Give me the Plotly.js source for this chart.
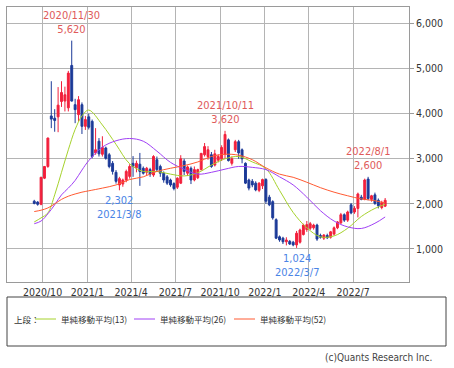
<!DOCTYPE html>
<html><head><meta charset="utf-8">
<script src="https://cdn.plot.ly/plotly-3.0.1.min.js"></script>
<style>html,body{margin:0;padding:0;background:#fff;}#chart{width:454px;height:368px;}</style>
</head><body><div id="chart"></div>
<script>
const dates = ['2020-09-14','2020-09-21','2020-09-28','2020-10-05','2020-10-12','2020-10-19','2020-10-26','2020-11-02','2020-11-09','2020-11-16','2020-11-23','2020-11-30','2020-12-07','2020-12-14','2020-12-21','2020-12-28',
'2021-01-04','2021-01-11','2021-01-18','2021-01-25','2021-02-01','2021-02-08','2021-02-15','2021-02-22','2021-03-01','2021-03-08','2021-03-15','2021-03-22','2021-03-29','2021-04-05','2021-04-12','2021-04-19','2021-04-26','2021-05-03','2021-05-10','2021-05-17','2021-05-24','2021-05-31','2021-06-07','2021-06-14','2021-06-21','2021-06-28','2021-07-05','2021-07-12','2021-07-19','2021-07-26','2021-08-02','2021-08-09','2021-08-16','2021-08-23','2021-08-30','2021-09-06','2021-09-13','2021-09-20','2021-09-27','2021-10-04','2021-10-11','2021-10-18','2021-10-25','2021-11-01','2021-11-08','2021-11-15','2021-11-22','2021-11-29','2021-12-06','2021-12-13','2021-12-20','2021-12-27',
'2022-01-03','2022-01-10','2022-01-17','2022-01-24','2022-01-31','2022-02-07','2022-02-14','2022-02-21','2022-02-28','2022-03-07','2022-03-14','2022-03-21','2022-03-28','2022-04-04','2022-04-11','2022-04-18','2022-04-25','2022-05-02','2022-05-09','2022-05-16','2022-05-23','2022-05-30','2022-06-06','2022-06-13','2022-06-20','2022-06-27','2022-07-04','2022-07-11','2022-07-18','2022-07-25','2022-08-01','2022-08-08','2022-08-15','2022-08-22','2022-08-29','2022-09-05'];

const open  = [2060,2040,1990,2570,2830,3950,3900,3930,4270,4280,4130,5070,4200,3980,4200,3720,
3930,3830,3130,3390,3100,3240,3090,2900,2700,2420,2440,2530,2610,2900,2800,2880,2790,2700,2760,2640,2980,2830,2680,2600,2530,2450,2370,2460,2950,2680,2790,2530,2580,2760,3090,3050,3090,2860,2970,3000,3100,3420,2900,3200,3380,3200,2900,2530,2500,2460,2300,2400,
2540,2150,2050,1650,1270,1240,1160,1170,1150,1090,1150,1320,1430,1460,1470,1530,1300,1240,1300,1260,1330,1470,1580,1760,1640,1980,1820,1900,2150,2100,2550,2100,2200,2080,1920,1950];
const high  = [2090,2060,2600,2840,3470,4720,4100,4590,4720,4600,4950,5620,4330,4390,4250,3950,
4000,3870,3680,3460,3500,3270,3130,2950,2750,2600,2560,2760,2880,3060,2960,3130,2830,2820,2800,3080,3050,2870,2720,2640,2560,2480,2590,3080,3000,2850,2830,2830,2780,3130,3350,3280,3150,3200,3100,3300,3620,3450,3050,3420,3420,3230,2920,2560,2550,2500,2480,2560,
2570,2200,2080,1680,1300,1270,1260,1200,1180,1400,1450,1560,1620,1600,1560,1560,1340,1330,1340,1400,1500,1620,1800,1790,1850,2020,1950,2250,2200,2560,2600,2200,2250,2120,2070,2130];
const low   = [1990,1960,1970,2550,2800,3680,3600,3590,4150,4050,4050,4270,3790,3830,3550,3640,
3650,3010,3090,3050,3050,2980,2790,2650,2450,2302,2380,2480,2560,2600,2700,2400,2650,2640,2600,2600,2720,2600,2470,2420,2380,2300,2330,2440,2640,2620,2440,2500,2550,2740,3050,2980,2800,2830,2920,2950,3000,2940,2850,3150,3000,2900,2440,2300,2370,2280,2260,2330,
2000,1950,1650,1220,1160,1110,1080,1090,1060,1024,1120,1300,1380,1420,1430,1180,1230,1200,1220,1230,1300,1440,1550,1600,1600,1770,1780,1700,2080,2080,2080,2050,1980,1900,1880,1930];
const close = [2010,1990,2590,2830,3460,3880,3850,4190,4470,4420,4900,4280,4090,4310,3720,3870,
3700,3050,3200,3110,3250,3010,2830,2720,2500,2560,2530,2720,2830,2830,2900,2720,2680,2790,2660,3050,2760,2680,2530,2460,2420,2340,2570,3000,2720,2820,2530,2760,2760,3120,3270,3200,2830,3110,3050,3250,3540,2960,3000,3380,3130,3000,2460,2350,2420,2310,2460,2540,
2060,1980,1690,1240,1200,1160,1200,1110,1090,1350,1420,1530,1540,1560,1530,1220,1260,1310,1250,1380,1470,1600,1760,1640,1820,1800,1900,2220,2100,2530,2120,2180,2010,1960,2030,2080];

// moving averages
const maDates = ['2020-09-14','2020-09-28','2020-10-12','2020-10-26','2020-11-09','2020-11-23','2020-12-07','2020-12-21','2021-01-04','2021-02-01','2021-03-01','2021-03-29','2021-04-26','2021-05-24','2021-06-21','2021-07-19','2021-08-16','2021-09-13','2021-10-11','2021-11-08','2021-12-06','2022-01-03','2022-01-31','2022-02-28','2022-03-28','2022-04-25','2022-05-23','2022-06-20','2022-07-18','2022-08-15','2022-09-05'];
const ma13 = [1600,1690,1800,2200,2700,3200,3650,3950,4080,3750,3320,2890,2720,2720,2660,2620,2690,2860,3000,3050,2930,2780,2300,1810,1470,1270,1290,1460,1720,1900,1990];
const ma26 = [1560,1620,1780,1980,2200,2350,2520,2750,2960,3260,3400,3450,3390,3170,2920,2770,2660,2700,2770,2830,2810,2760,2600,2420,2150,1850,1620,1490,1455,1570,1710];
const ma52 = [1830,1860,1910,2000,2100,2170,2220,2260,2290,2350,2420,2540,2600,2720,2790,2850,2930,3050,3100,3080,2980,2800,2660,2590,2480,2360,2260,2180,2110,2070,2020];

const xTicks = ['2020-10-01','2021-01-01','2021-04-01','2021-07-01','2021-10-01','2022-01-01','2022-04-01','2022-07-01'];
const xTickText = ['2020/10','2021/1','2021/4','2021/7','2021/10','2022/1','2022/4','2022/7'];
const yTicks = [1000,2000,3000,4000,5000,6000];
const yTickText = ['1,000','2,000','3,000','4,000','5,000','6,000'];

const peakDates = ['2020-11-30','2021-10-11','2022-08-01'];
const lowDates  = ['2021-03-08','2022-03-07'];
const legendNames = ['単純移動平均(13)','単純移動平均(26)','単純移動平均(52)'];
const maColors = ['#a6d22c','#a040f5','#ff5a32'];

const NF = '"Liberation Sans Narrow","Arial Narrow","DejaVu Sans Condensed",sans-serif';
const JF = '"Noto Sans CJK JP",sans-serif';

const traces = [
  {type:'candlestick', x:dates, open:open, high:high, low:low, close:close,
   increasing:{line:{color:'#f2203c',width:1}, fillcolor:'#f2203c'},
   decreasing:{line:{color:'#1c3a98',width:1}, fillcolor:'#1c3a98'},
   whiskerwidth:0, hoverinfo:'none', showlegend:false},
  {type:'scatter', mode:'lines', x:maDates, y:ma13, line:{color:maColors[0],width:1,shape:'spline'}, hoverinfo:'none'},
  {type:'scatter', mode:'lines', x:maDates, y:ma26, line:{color:maColors[1],width:1,shape:'spline'}, hoverinfo:'none'},
  {type:'scatter', mode:'lines', x:maDates, y:ma52, line:{color:maColors[2],width:1,shape:'spline'}, hoverinfo:'none'}
];

function fmtDate(d){const p=d.split('-');return p[0]+'/'+(+p[1])+'/'+(+p[2]);}
function fmtNum(v){return v.toLocaleString('en-US');}

const annotations = [];
peakDates.forEach(d=>{
  const i = dates.indexOf(d);
  annotations.push({x:d, y:high[i], xref:'x', yref:'y', yanchor:'bottom', yshift:3, showarrow:false,
    text:fmtDate(d)+'<br>'+fmtNum(high[i]), font:{family:NF,size:11,color:'#e05a5a'}, align:'center'});
});
lowDates.forEach(d=>{
  const i = dates.indexOf(d);
  annotations.push({x:d, y:low[i], xref:'x', yref:'y', yanchor:'top', yshift:-2, showarrow:false,
    text:fmtNum(low[i])+'<br>'+fmtDate(d), font:{family:NF,size:11,color:'#4a84e6'}, align:'center'});
});

// legend box (drawn below the plot)
const W = 402, H = 275; // plot area px
const px = v => (v-7)/W;
const py = v => (282-v)/H;
const shapes = [
  {type:'rect', xref:'paper', yref:'paper', x0:px(7), x1:px(446), y0:py(346), y1:py(297), line:{color:'#444',width:1}, fillcolor:'rgba(0,0,0,0)'}
];
const legX = [35,134,234];
legX.forEach((x,k)=>{
  shapes.push({type:'line', xref:'paper', yref:'paper', x0:px(x), x1:px(x+21), y0:py(319), y1:py(319), line:{color:maColors[k],width:1}});
  annotations.push({xref:'paper', yref:'paper', x:px(x+24), y:py(319), xanchor:'left', yanchor:'middle', showarrow:false,
    text:legendNames[k], font:{family:JF,size:8.5,color:'#333'}});
});
annotations.push({xref:'paper', yref:'paper', x:px(12), y:py(319), xanchor:'left', yanchor:'middle', showarrow:false,
  text:'上段：', font:{family:JF,size:8.5,color:'#333'}});
annotations.push({xref:'paper', yref:'paper', x:px(434), y:py(357), xanchor:'right', yanchor:'middle', showarrow:false,
  text:'(c)Quants Research Inc.', font:{family:NF,size:10,color:'#444'}});

const layout = {
  width:454, height:368,
  margin:{l:7,r:45,t:7,b:86},
  paper_bgcolor:'#fff', plot_bgcolor:'#fff',
  showlegend:false,
  boxgap:0.2,
  xaxis:{type:'date', range:['2020-07-20','2022-10-24'], tickmode:'array', tickvals:xTicks, ticktext:xTickText,
    showgrid:true, gridcolor:'#b4b4b4', gridwidth:1, showline:true, linecolor:'#9a9a9a', mirror:true, ticks:'',
    tickfont:{family:NF,size:10.5,color:'#333'}, rangeslider:{visible:false}, zeroline:false, fixedrange:true},
  yaxis:{side:'right', range:[268,6366], tickmode:'array', tickvals:yTicks, ticktext:yTickText, ticks:'outside', ticklen:4, tickcolor:'#9a9a9a',
    showline:true, mirror:true, linecolor:'#9a9a9a', showgrid:true, gridcolor:'#b4b4b4', gridwidth:1,
    tickfont:{family:NF,size:10.5,color:'#333'}, zeroline:false, fixedrange:true},
  annotations:annotations, shapes:shapes
};

Plotly.newPlot('chart', traces, layout, {staticPlot:true, displayModeBar:false});
</script></body></html>
